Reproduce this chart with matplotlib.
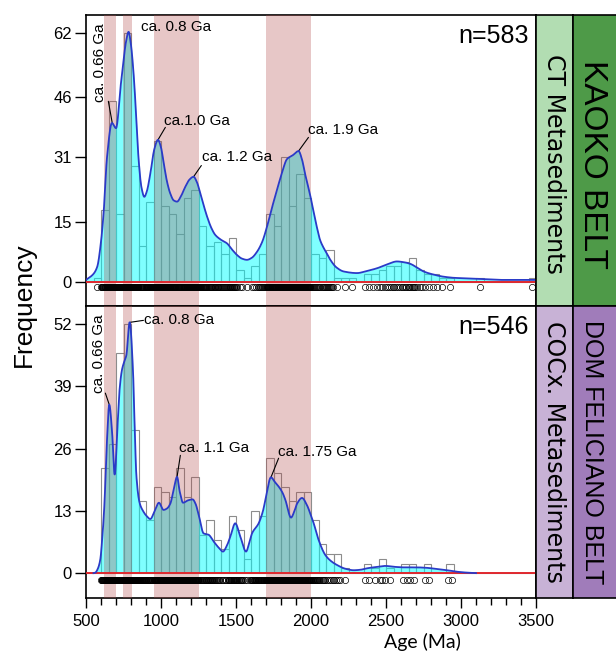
import numpy as np
import matplotlib
matplotlib.use("Agg")
import matplotlib.pyplot as plt

plt.rcParams['font.family'] = ['Liberation Sans', 'DejaVu Sans']

# ---------------- data ----------------
bin_left = list(range(500, 3500, 50))

counts_kaoko = [0, 1, 18, 45, 17, 62, 29, 9, 20, 35, 19, 17, 12, 21, 23, 14, 9, 10, 7, 11,
                3, 1, 4, 7, 17, 14, 31, 19, 27, 21, 7, 6, 8, 1, 1, 1, 0, 2, 2, 3,
                4, 4, 5, 6, 3, 2, 2, 1, 1, 0, 0, 0, 1, 0, 0, 0, 0, 0, 0, 1]
counts_dom = [0, 0, 22, 27, 46, 52, 30, 15, 11, 18, 17, 16, 22, 16, 20, 8, 11, 7, 5, 12,
              9, 3, 13, 12, 24, 21, 18, 15, 17, 17, 11, 6, 4, 4, 1, 0, 0, 2, 1, 3,
              1, 0, 2, 2, 0, 2, 0, 0, 2, 0, 0, 0, 0, 0, 0, 0, 0, 0, 0, 0]

kde_age_kaoko = [500, 550, 575, 600, 617, 640, 673, 700, 733, 750, 765, 784, 800, 817, 835,
                 851, 870, 889, 905, 929, 955, 980, 1000, 1018, 1040, 1062, 1085, 1107, 1135,
                 1162, 1190, 1217, 1240, 1262, 1285, 1307, 1335, 1362, 1400, 1440, 1475, 1507,
                 1540, 1573, 1605, 1640, 1675, 1707, 1740, 1773, 1805, 1840, 1880, 1917, 1940,
                 1960, 1995, 2020, 2040, 2060, 2084, 2107, 2129, 2170, 2218, 2307, 2370, 2440,
                 2510, 2573, 2620, 2662, 2710, 2751, 2820, 2884, 2960, 3040, 3150, 3262, 3400, 3500]
kde_val_kaoko = [0.5, 2.0, 3.8, 10.0, 17.0, 31.0, 39.6, 38.3, 49.5, 55.0, 59.5, 62.3, 59.0, 52.0, 41.0,
                 30.4, 23.5, 21.2, 22.5, 27.0, 33.0, 35.4, 33.5, 29.6, 25.0, 22.0, 20.3, 20.0, 21.5,
                 23.7, 25.5, 26.2, 24.8, 22.0, 19.0, 16.3, 13.5, 11.7, 10.5, 9.6, 8.0, 6.7,
                 5.8, 5.5, 6.0, 7.5, 10.0, 13.8, 18.5, 22.9, 27.0, 30.6, 31.6, 32.6, 30.5,
                 27.0, 21.5, 17.0, 13.5, 10.5, 8.5, 7.0, 5.5, 3.6, 2.6, 2.2, 2.7, 3.4,
                 4.4, 5.1, 4.9, 4.5, 3.5, 2.6, 1.8, 1.3, 1.0, 0.9, 0.7, 0.5, 0.5, 0.5]

kde_age_dom = [550, 562, 580, 595, 610, 622, 640, 655, 673, 691, 711, 724, 740, 751, 769,
               791, 813, 825, 836, 858, 880, 902, 929, 958, 986, 1017, 1040, 1062, 1085, 1107,
               1125, 1147, 1180, 1211, 1230, 1251, 1284, 1318, 1351, 1385, 1413, 1440, 1462,
               1495, 1529, 1567, 1590, 1607, 1651, 1680, 1696, 1733, 1760, 1784, 1810, 1829,
               1867, 1890, 1907, 1940, 1973, 2000, 2018, 2050, 2095, 2130, 2173, 2230, 2284,
               2330, 2373, 2440, 2495, 2560, 2617, 2700, 2773, 2850, 2907, 2970, 3040, 3100]
kde_val_dom = [0.0, 0.1, 1.0, 2.8, 8.0, 13.9, 27.8, 35.2, 29.9, 20.6, 31.3, 38.4, 42.5, 43.8, 45.5,
               52.4, 42.5, 30.0, 20.3, 14.6, 13.0, 12.0, 11.3, 13.0, 14.7, 13.2, 13.5, 14.5, 17.5, 20.1,
               17.0, 14.7, 15.2, 15.4, 14.5, 12.2, 8.3, 8.0, 6.6, 5.3, 4.5, 5.8, 7.6,
               10.4, 7.6, 4.5, 6.5, 8.3, 10.4, 13.0, 15.3, 20.0, 19.0, 18.1, 16.8, 15.3,
               11.6, 13.0, 14.5, 15.7, 14.2, 12.0, 10.4, 7.0, 3.8, 2.6, 1.7, 0.9, 0.6,
               0.7, 1.0, 1.3, 1.5, 1.3, 1.2, 1.2, 1.1, 0.8, 0.6, 0.3, 0.1, 0.0]

# age windows of the main peaks (Ma)
bands = [(620, 697), (746, 807), (950, 1250), (1700, 2000)]

yticks_kaoko = [0, 15, 31, 46, 62]
yticks_dom = [0, 13, 26, 39, 52]

peaks_kaoko = [("ca. 0.66 Ga", 675, 39.6), ("ca. 0.8 Ga", 784, 62.3), ("ca.1.0 Ga", 980, 35.4),
               ("ca. 1.2 Ga", 1217, 26.2), ("ca. 1.9 Ga", 1917, 32.6)]
peaks_dom = [("ca. 0.66 Ga", 655, 35.2), ("ca. 0.8 Ga", 791, 52.4), ("ca. 1.1 Ga", 1107, 20.1),
             ("ca. 1.75 Ga", 1733, 20.0)]

n_kaoko = 583
n_dom = 546


# ---------------- helpers ----------------
def pchip(x, y, xn):
    x = np.asarray(x, float)
    y = np.asarray(y, float)
    h = np.diff(x)
    d = np.diff(y) / h
    m = np.zeros_like(y)
    for k in range(1, len(y) - 1):
        if d[k - 1] * d[k] > 0:
            w1 = 2 * h[k] + h[k - 1]
            w2 = h[k] + 2 * h[k - 1]
            m[k] = (w1 + w2) / (w1 / d[k - 1] + w2 / d[k])
    m[0] = d[0]
    m[-1] = d[-1]
    idx = np.clip(np.searchsorted(x, xn) - 1, 0, len(h) - 1)
    t = (xn - x[idx]) / h[idx]
    h00 = 2 * t**3 - 3 * t**2 + 1
    h10 = t**3 - 2 * t**2 + t
    h01 = -2 * t**3 + 3 * t**2
    h11 = t**3 - t**2
    return h00 * y[idx] + h10 * h[idx] * m[idx] + h01 * y[idx + 1] + h11 * h[idx] * m[idx + 1]


def rug_positions(lefts, counts, width=50):
    pos = []
    for lo, c in zip(lefts, counts):
        for k in range(c):
            pos.append(lo + (k + 0.5) * width / c)
    return np.array(pos)


def draw_panel(ax, counts, kde_age, kde_val, ylim, yticks, rug_y):
    ax.bar(bin_left, counts, width=50, align='edge', fill=False,
           edgecolor='#8c8c8c', linewidth=0.8, zorder=1)
    xs = np.linspace(kde_age[0], kde_age[-1], 1500)
    ys = np.clip(pchip(kde_age, kde_val, xs), 0, None)
    ax.fill_between(xs, 0, ys, color=(0, 1, 1), alpha=0.5, linewidth=0, zorder=2)
    for lo, hi in bands:
        ax.axvspan(lo, hi, color=(178/255, 72/255, 72/255), alpha=0.3, linewidth=0, zorder=3)
    ax.axhline(0, color='#e0282e', linewidth=1.4, zorder=4)
    ax.plot(xs, ys, color='#2a3bc8', linewidth=1.3, zorder=5)
    r = rug_positions(bin_left, counts)
    ax.plot(r, np.full(r.size, rug_y), linestyle='none', marker='o', ms=4.5,
            mfc='none', mec='black', mew=0.5, zorder=6)
    ax.set_xlim(500, 3500)
    ax.set_ylim(*ylim)
    ax.set_yticks(yticks)
    ax.tick_params(axis='y', direction='out', length=8, width=1.0, labelsize=12, pad=2)
    for s in ax.spines.values():
        s.set_linewidth(1.2)


fig = plt.figure(figsize=(6.16, 6.51), dpi=100)
W, H = 616.0, 651.0

ax_top = fig.add_axes([86 / W, 1 - 306 / H, 450 / W, 291 / H])
ax_bot = fig.add_axes([86 / W, 1 - 598 / H, 450 / W, 292 / H])

draw_panel(ax_top, counts_kaoko, kde_age_kaoko, kde_val_kaoko, (-6.0, 66.5), yticks_kaoko, -1.2)
draw_panel(ax_bot, counts_dom, kde_age_dom, kde_val_dom, (-5.2, 55.8), yticks_dom, -1.4)

ax_top.tick_params(axis='x', bottom=False, labelbottom=False)
ax_bot.set_xticks([500, 1000, 1500, 2000, 2500, 3000, 3500])
ax_bot.set_xticks(np.arange(600, 3500, 100), minor=True)
ax_bot.tick_params(axis='x', which='major', direction='out', length=7.5, width=1.0,
                   labelsize=12, pad=4)
ax_bot.tick_params(axis='x', which='minor', direction='out', length=5, width=1.0)

# peak labels
lab = dict(fontsize=11, zorder=8)
line = dict(arrowstyle='-', color='black', lw=0.8, shrinkA=0, shrinkB=0)

ax_top.text(595, 54.5, peaks_kaoko[0][0], rotation=90, ha='center', va='center', **lab)
ax_top.annotate('', xy=(peaks_kaoko[0][1], peaks_kaoko[0][2]), xytext=(649, 45), arrowprops=line)
ax_top.text(869, 63.5, peaks_kaoko[1][0], ha='left', va='center', **lab)
ax_top.text(1017, 40.2, peaks_kaoko[2][0], ha='left', va='center', **lab)
ax_top.annotate('', xy=(peaks_kaoko[2][1], peaks_kaoko[2][2]), xytext=(1029, 38.5), arrowprops=line)
ax_top.text(1270, 31.0, peaks_kaoko[3][0], ha='left', va='center', **lab)
ax_top.annotate('', xy=(peaks_kaoko[3][1], peaks_kaoko[3][2]), xytext=(1269, 29.0), arrowprops=line)
ax_top.text(1977, 37.8, peaks_kaoko[4][0], ha='left', va='center', **lab)
ax_top.annotate('', xy=(peaks_kaoko[4][1], peaks_kaoko[4][2]), xytext=(1983, 36.0), arrowprops=line)

ax_bot.text(584, 45.9, peaks_dom[0][0], rotation=90, ha='center', va='center', **lab)
ax_bot.annotate('', xy=(peaks_dom[0][1], peaks_dom[0][2]), xytext=(629, 37.6), arrowprops=line)
ax_bot.text(889, 52.9, peaks_dom[1][0], ha='left', va='center', **lab)
ax_bot.annotate('', xy=(peaks_dom[1][1] + 5, peaks_dom[1][2]), xytext=(883, 52.8), arrowprops=line)
ax_bot.text(1122, 26.1, peaks_dom[2][0], ha='left', va='center', **lab)
ax_bot.annotate('', xy=(peaks_dom[2][1], peaks_dom[2][2]), xytext=(1129, 24.6), arrowprops=line)
ax_bot.text(1780, 25.3, peaks_dom[3][0], ha='left', va='center', **lab)
ax_bot.annotate('', xy=(peaks_dom[3][1], peaks_dom[3][2]), xytext=(1784, 24.0), arrowprops=line)

ax_top.text(3451, 61.3, f"n={n_kaoko}", ha='right', va='center', fontsize=18, zorder=8)
ax_bot.text(3451, 51.5, f"n={n_dom}", ha='right', va='center', fontsize=18, zorder=8)

# side columns
def side_box(x0, w, y0, h, color):
    a = fig.add_axes([x0 / W, 1 - (y0 + h) / H, w / W, h / H])
    a.set_facecolor(color)
    a.set_xticks([])
    a.set_yticks([])
    for s in a.spines.values():
        s.set_linewidth(1.2)
    return a

side_box(536, 37, 15, 291, '#b2ddb2')
side_box(573, 44, 15, 291, '#4e9a48')
side_box(536, 37, 306, 292, '#c8b2d6')
side_box(573, 44, 306, 292, '#a07cba')

fig.text(554 / W, 1 - 164 / H, "CT Metasediments", rotation=270, ha='center', va='center',
         fontsize=17, family=['DejaVu Sans'])
fig.text(592 / W, 1 - 164 / H, "KAOKO BELT", rotation=270, ha='center', va='center',
         fontsize=24, family=['Liberation Sans'])
fig.text(554 / W, 1 - 452 / H, "COCx. Metasediments", rotation=270, ha='center', va='center',
         fontsize=17, family=['DejaVu Sans'])
fig.text(592 / W, 1 - 452 / H, "DOM FELICIANO BELT", rotation=270, ha='center', va='center',
         fontsize=18, family=['Liberation Sans'])

fig.text(24 / W, 1 - 305 / H, "Frequency", rotation=90, ha='center', va='center', fontsize=19)
fig.text(422 / W, 1 - 642 / H, "Age (Ma)", ha='center', va='center', fontsize=14,
         family=['Lato', 'DejaVu Sans'])

fig.savefig("out.png", dpi=100)
